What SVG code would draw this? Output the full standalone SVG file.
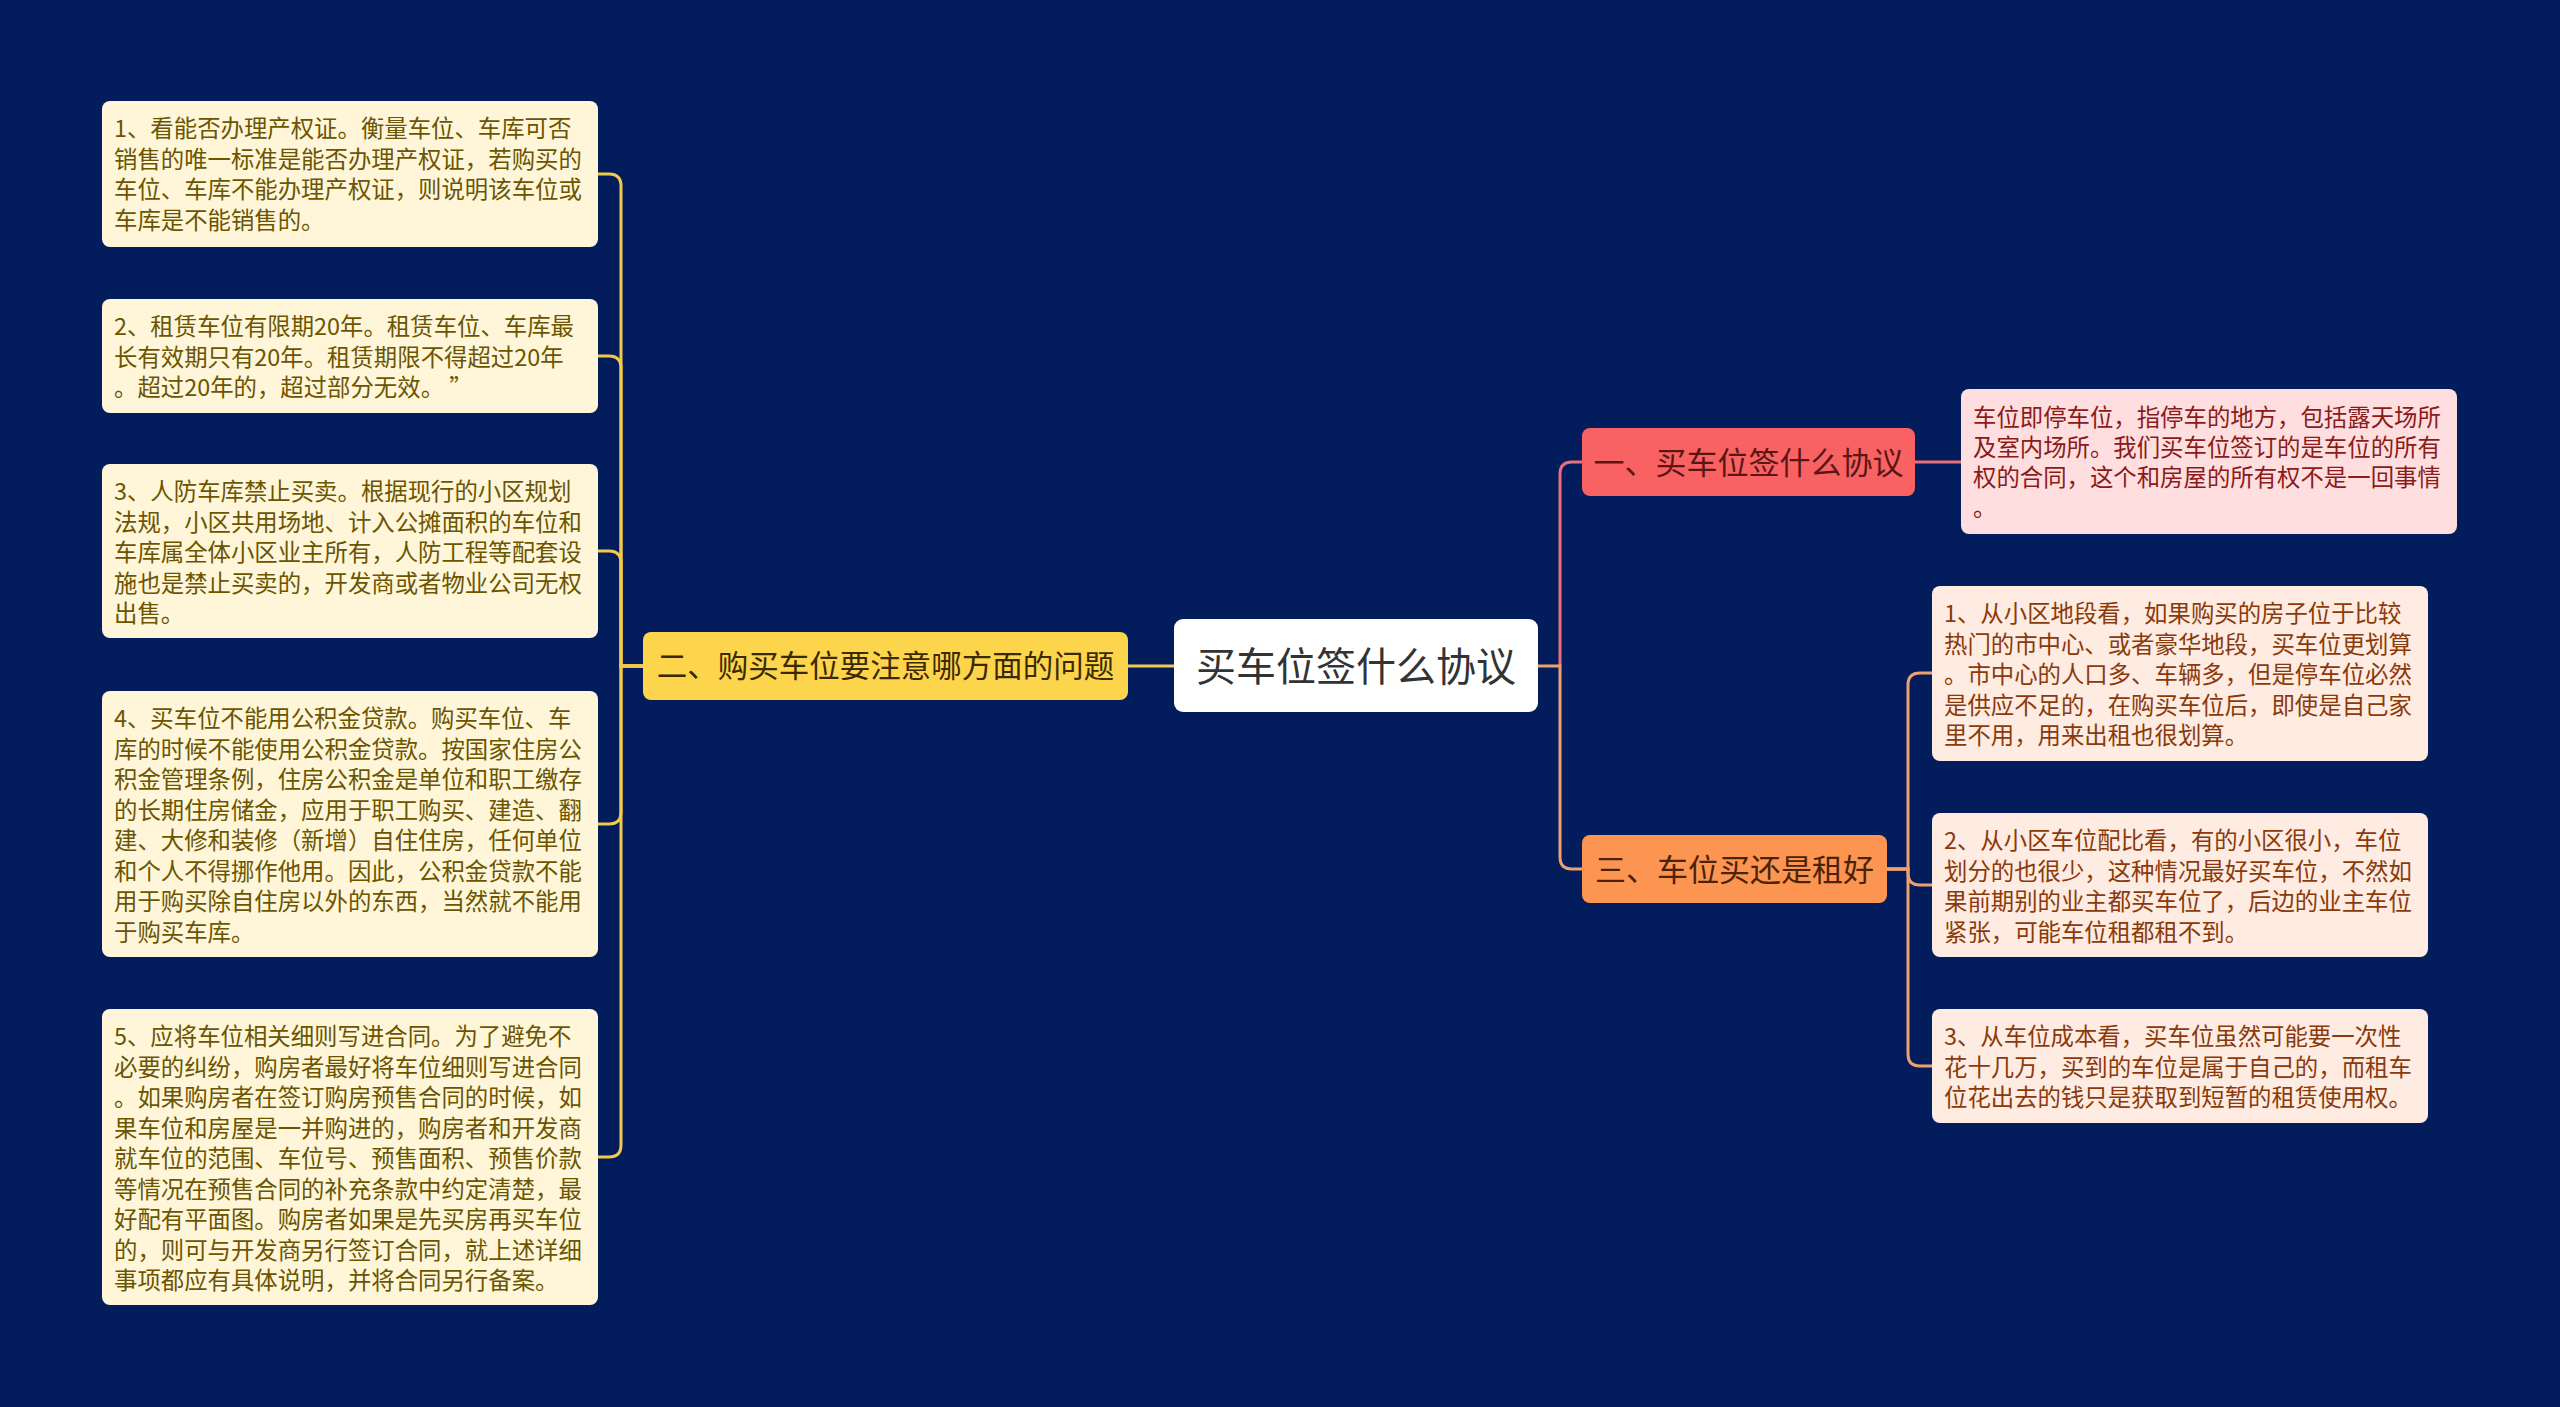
<svg xmlns="http://www.w3.org/2000/svg" width="2560" height="1407" viewBox="0 0 2560 1407">
<style>
text{font-family:"Noto Sans CJK SC","Noto Sans",sans-serif;}
.lb{fill:#fff6da;}
.lt{font-size:23.4px;fill:#6b5500;}
.rb{fill:#feebe1;}
.rt{font-size:23.4px;fill:#8a3a0a;}
.pb{fill:#fedede;}
.pt{font-size:23.4px;fill:#8b1a1a;}
.cy{fill:none;stroke:#f2c94c;stroke-width:3;}
.cp{fill:none;stroke:#e8707a;stroke-width:3;}
.co{fill:none;stroke:#f0a070;stroke-width:3;}
</style>
<rect x="0" y="0" width="2560" height="1407" fill="#031c5b"/>
<g id="connectors">
<path class="cy" d="M1174 666 H1128"/>
<path class="cy" d="M643 666 H621 V186 Q621 174 609 174 H598"/>
<path class="cy" d="M643 666 H621 V368 Q621 356 609 356 H598"/>
<path class="cy" d="M643 666 H621 V563 Q621 551 609 551 H598"/>
<path class="cy" d="M643 666 H621 V812 Q621 824 609 824 H598"/>
<path class="cy" d="M643 666 H621 V1145 Q621 1157 609 1157 H598"/>
<path class="cp" d="M1560 666 V474 Q1560 462 1572 462 H1582"/>
<path class="co" d="M1538 666 H1560 V857 Q1560 869 1572 869 H1582"/>
<path class="cp" d="M1915 462 H1961"/>
<path class="co" d="M1887 869 H1908 V685 Q1908 673 1920 673 H1932"/>
<path class="co" d="M1887 869 H1908 V873 Q1908 885 1920 885 H1932"/>
<path class="co" d="M1887 869 H1908 V1054 Q1908 1066 1920 1066 H1932"/>
</g>
<g id="center">
<rect x="1174" y="619" width="364" height="93" rx="9" fill="#ffffff"/>
<text x="1356" y="681" font-size="40" fill="#333333" text-anchor="middle">买车位签什么协议</text>
</g>
<g id="n2">
<rect x="643" y="632" width="485" height="68" rx="8" fill="#fdd54c"/>
<text x="885.5" y="677" font-size="30.5" fill="#3b2a00" text-anchor="middle">二、购买车位要注意哪方面的问题</text>
</g>
<g id="n1">
<rect x="1582" y="428" width="333" height="68" rx="8" fill="#f86262"/>
<text x="1748.5" y="474" font-size="31" fill="#5c1515" text-anchor="middle">一、买车位签什么协议</text>
</g>
<g id="n3">
<rect x="1582" y="835" width="305" height="68" rx="8" fill="#fd9552"/>
<text x="1734.5" y="881" font-size="31" fill="#4a2308" text-anchor="middle">三、车位买还是租好</text>
</g>
<g id="l1">
<rect class="lb" x="102" y="101" width="496" height="146" rx="8"/>
<text class="lt"><tspan x="114" y="137">1、看能否办理产权证。衡量车位、车库可否</tspan><tspan x="114" y="167.5">销售的唯一标准是能否办理产权证，若购买的</tspan><tspan x="114" y="198">车位、车库不能办理产权证，则说明该车位或</tspan><tspan x="114" y="228.5">车库是不能销售的。</tspan></text>
</g>
<g id="l2">
<rect class="lb" x="102" y="299" width="496" height="114" rx="8"/>
<text class="lt"><tspan x="114" y="335">2、租赁车位有限期20年。租赁车位、车库最</tspan><tspan x="114" y="365.5">长有效期只有20年。租赁期限不得超过20年</tspan><tspan x="114" y="396">。超过20年的，超过部分无效。 ”</tspan></text>
</g>
<g id="l3">
<rect class="lb" x="102" y="464" width="496" height="174" rx="8"/>
<text class="lt"><tspan x="114" y="500">3、人防车库禁止买卖。根据现行的小区规划</tspan><tspan x="114" y="530.5">法规，小区共用场地、计入公摊面积的车位和</tspan><tspan x="114" y="561">车库属全体小区业主所有，人防工程等配套设</tspan><tspan x="114" y="591.5">施也是禁止买卖的，开发商或者物业公司无权</tspan><tspan x="114" y="622">出售。</tspan></text>
</g>
<g id="l4">
<rect class="lb" x="102" y="691" width="496" height="266" rx="8"/>
<text class="lt"><tspan x="114" y="727">4、买车位不能用公积金贷款。购买车位、车</tspan><tspan x="114" y="757.5">库的时候不能使用公积金贷款。按国家住房公</tspan><tspan x="114" y="788">积金管理条例，住房公积金是单位和职工缴存</tspan><tspan x="114" y="818.5">的长期住房储金，应用于职工购买、建造、翻</tspan><tspan x="114" y="849">建、大修和装修（新增）自住住房，任何单位</tspan><tspan x="114" y="879.5">和个人不得挪作他用。因此，公积金贷款不能</tspan><tspan x="114" y="910">用于购买除自住房以外的东西，当然就不能用</tspan><tspan x="114" y="940.5">于购买车库。</tspan></text>
</g>
<g id="l5">
<rect class="lb" x="102" y="1009" width="496" height="296" rx="8"/>
<text class="lt"><tspan x="114" y="1045">5、应将车位相关细则写进合同。为了避免不</tspan><tspan x="114" y="1075.5">必要的纠纷，购房者最好将车位细则写进合同</tspan><tspan x="114" y="1106">。如果购房者在签订购房预售合同的时候，如</tspan><tspan x="114" y="1136.5">果车位和房屋是一并购进的，购房者和开发商</tspan><tspan x="114" y="1167">就车位的范围、车位号、预售面积、预售价款</tspan><tspan x="114" y="1197.5">等情况在预售合同的补充条款中约定清楚，最</tspan><tspan x="114" y="1228">好配有平面图。购房者如果是先买房再买车位</tspan><tspan x="114" y="1258.5">的，则可与开发商另行签订合同，就上述详细</tspan><tspan x="114" y="1289">事项都应有具体说明，并将合同另行备案。</tspan></text>
</g>
<g id="p1">
<rect class="pb" x="1961" y="389" width="496" height="145" rx="8"/>
<text class="pt"><tspan x="1973" y="426">车位即停车位，指停车的地方，包括露天场所</tspan><tspan x="1973" y="456">及室内场所。我们买车位签订的是车位的所有</tspan><tspan x="1973" y="486">权的合同，这个和房屋的所有权不是一回事情</tspan><tspan x="1973" y="516">。</tspan></text>
</g>
<g id="r1">
<rect class="rb" x="1932" y="586" width="496" height="175" rx="8"/>
<text class="rt"><tspan x="1944" y="622">1、从小区地段看，如果购买的房子位于比较</tspan><tspan x="1944" y="652.5">热门的市中心、或者豪华地段，买车位更划算</tspan><tspan x="1944" y="683">。市中心的人口多、车辆多，但是停车位必然</tspan><tspan x="1944" y="713.5">是供应不足的，在购买车位后，即使是自己家</tspan><tspan x="1944" y="744">里不用，用来出租也很划算。</tspan></text>
</g>
<g id="r2">
<rect class="rb" x="1932" y="813" width="496" height="144" rx="8"/>
<text class="rt"><tspan x="1944" y="849">2、从小区车位配比看，有的小区很小，车位</tspan><tspan x="1944" y="879.5">划分的也很少，这种情况最好买车位，不然如</tspan><tspan x="1944" y="910">果前期别的业主都买车位了，后边的业主车位</tspan><tspan x="1944" y="940.5">紧张，可能车位租都租不到。</tspan></text>
</g>
<g id="r3">
<rect class="rb" x="1932" y="1009" width="496" height="114" rx="8"/>
<text class="rt"><tspan x="1944" y="1045">3、从车位成本看，买车位虽然可能要一次性</tspan><tspan x="1944" y="1075.5">花十几万，买到的车位是属于自己的，而租车</tspan><tspan x="1944" y="1106">位花出去的钱只是获取到短暂的租赁使用权。</tspan></text>
</g>
</svg>
